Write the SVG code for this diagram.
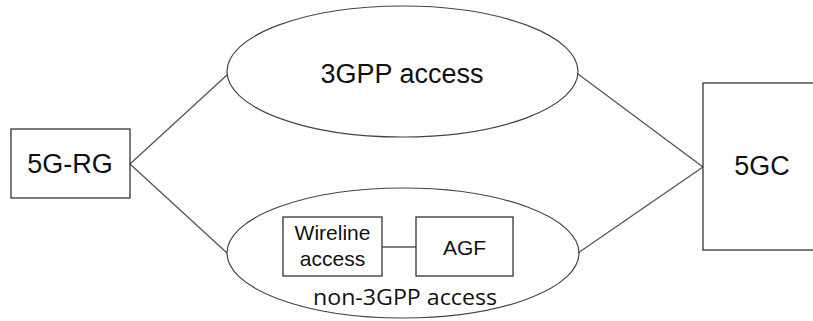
<svg xmlns="http://www.w3.org/2000/svg" width="813" height="321" viewBox="0 0 813 321">
<style>
.box{fill:none;stroke:#333;stroke-width:1.3}
.ell{fill:none;stroke:#444;stroke-width:1.2}
.conn{stroke:#555;stroke-width:1.3;fill:none}
.t{font-family:"Liberation Sans",Arial,sans-serif;fill:#111;text-anchor:middle}
.big{font-size:27px}
.small{font-size:21px}
.seg{font-family:"Open Sans","Noto Sans",sans-serif;font-size:22px;fill:#111;text-anchor:middle}
</style>
<rect width="813" height="321" fill="#fff"/>
<g id="connectors">
<line class="conn" x1="130" y1="164" x2="227" y2="75"/>
<line class="conn" x1="130" y1="164" x2="227" y2="253"/>
<line class="conn" x1="578" y1="74" x2="703" y2="167"/>
<line class="conn" x1="578" y1="253" x2="703" y2="167"/>
<line class="conn" x1="382" y1="247" x2="416" y2="247"/>
</g>
<g id="rg">
<rect class="box" x="11" y="129" width="119" height="69"/>
<text class="t big" x="70" y="173">5G-RG</text>
</g>
<g id="access3gpp">
<ellipse class="ell" cx="402.5" cy="71.5" rx="175.5" ry="65.5"/>
<text class="t big" x="402" y="83">3GPP access</text>
</g>
<g id="non3gpp">
<ellipse class="ell" cx="403" cy="253" rx="176" ry="65"/>
<text class="seg" x="405" y="305" textLength="184" lengthAdjust="spacingAndGlyphs">non-3GPP access</text>
</g>
<g id="wireline">
<rect class="box" x="283" y="217" width="99" height="59"/>
<text class="t small" x="332.5" y="240">Wireline</text>
<text class="t small" x="332.5" y="266">access</text>
</g>
<g id="agf">
<rect class="box" x="416" y="217" width="97" height="59"/>
<text class="t small" x="464.5" y="255">AGF</text>
</g>
<g id="fivegc">
<rect class="box" x="703" y="83" width="130" height="167"/>
<text class="t big" x="762" y="175">5GC</text>
</g>
</svg>
